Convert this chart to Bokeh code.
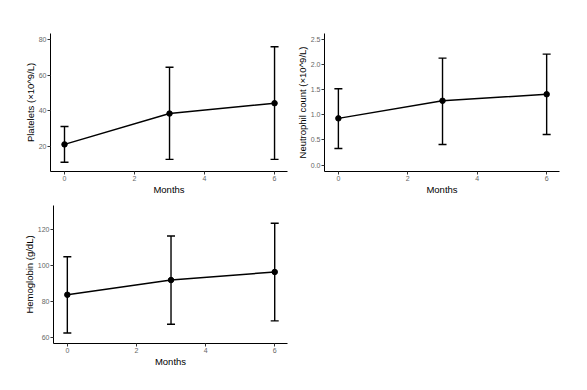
from bokeh.plotting import figure
from bokeh.models import ColumnDataSource, Whisker, TeeHead, Range1d, FixedTicker, PrintfTickFormatter
from bokeh.layouts import column, row
from bokeh.embed import file_html
from bokeh.resources import INLINE

months = [0, 3, 6]
x_ticks = [0, 2, 4, 6]

plt_mean = [21.2, 38.5, 44.3]
plt_lower = [11.2, 12.8, 12.8]
plt_upper = [31.2, 64.5, 76.0]
plt_ticks = [20, 40, 60, 80]

neu_mean = [0.93, 1.28, 1.41]
neu_lower = [0.33, 0.41, 0.61]
neu_upper = [1.52, 2.13, 2.21]
neu_ticks = [0.0, 0.5, 1.0, 1.5, 2.0, 2.5]

hb_mean = [83.8, 92.0, 96.5]
hb_lower = [62.5, 67.3, 69.2]
hb_upper = [105.0, 116.6, 123.7]
hb_ticks = [60, 80, 100, 120]

FONT = "Liberation Sans"


def panel(mean, lower, upper, yticks, ylabel, yrange, fw, fh, bl, bt, bb, br, fmt=None):
    p = figure(frame_width=fw, frame_height=fh, output_backend="svg", toolbar_location=None,
               x_range=Range1d(-0.4, 6.37), y_range=Range1d(*yrange),
               min_border_left=bl, min_border_top=bt, min_border_bottom=bb, min_border_right=br)
    p.outline_line_color = None
    p.grid.grid_line_color = None
    src = ColumnDataSource(dict(x=months, m=mean, lo=lower, up=upper))
    w = Whisker(base="x", lower="lo", upper="up", source=src, line_color="black", line_width=1.4,
                upper_head=TeeHead(size=8, line_color="black", line_width=1.4),
                lower_head=TeeHead(size=8, line_color="black", line_width=1.4))
    p.add_layout(w)
    p.line("x", "m", source=src, line_color="black", line_width=1.5)
    p.scatter("x", "m", source=src, size=5.5, color="black")
    for ax in (p.xaxis[0], p.yaxis[0]):
        ax.axis_line_color = "black"
        ax.axis_line_width = 1
        ax.major_tick_line_color = "#333333"
        ax.major_tick_out = 3
        ax.major_tick_in = 0
        ax.minor_tick_line_color = None
        ax.major_label_text_font = FONT
        ax.major_label_text_font_size = "7px"
        ax.major_label_text_color = "#666666"
        ax.axis_label_text_font = FONT
        ax.axis_label_text_font_size = "9.5px"
        ax.axis_label_text_font_style = "normal"
        ax.axis_label_text_color = "black"
        ax.major_label_standoff = 1
        ax.axis_label_standoff = 0
    p.xaxis[0].ticker = FixedTicker(ticks=x_ticks)
    p.yaxis[0].ticker = FixedTicker(ticks=yticks)
    p.xaxis[0].axis_label = "Months"
    p.yaxis[0].axis_label = ylabel
    if fmt:
        p.yaxis[0].formatter = fmt
    return p


p1 = panel(plt_mean, plt_lower, plt_upper, plt_ticks, "Platelets (×10^9/L)", (6, 83.4),
           237, 138, 50, 33, 22, 1)
p2 = panel(neu_mean, neu_lower, neu_upper, neu_ticks, "Neutrophil count (×10^9/L)", (-0.128, 2.62),
           235, 138, 36, 33, 22, 10, PrintfTickFormatter(format="%.1f"))
p3 = panel(hb_mean, hb_lower, hb_upper, hb_ticks, "Hemoglobin (g/dL)", (56.6, 133.6),
           234, 138, 53, 8, 22, 1)

layout = column(row(p1, p2), p3)
open("out.html", "w").write(file_html(layout, INLINE))
